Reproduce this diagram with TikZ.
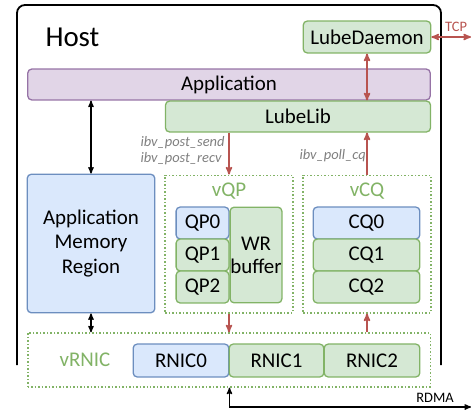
\documentclass[tikz,border=0pt]{standalone}
\usepackage{fontspec}
\setmainfont{Carlito}
\usetikzlibrary{arrows}
\definecolor{grnline}{HTML}{82B366}
\definecolor{grnfill}{HTML}{D5E8D4}
\definecolor{bluline}{HTML}{6C8EBF}
\definecolor{blufill}{HTML}{DAE8FC}
\definecolor{purline}{HTML}{9673A6}
\definecolor{purfill}{HTML}{E1D5E7}
\definecolor{redline}{HTML}{B85450}
\definecolor{txtgray}{HTML}{7F7F7F}
\begin{document}
\begin{tikzpicture}[x=1bp,y=-1bp,>=stealth',
    box/.style={draw,rounded corners=4bp,line width=1.3bp,inner sep=0pt,
      font=\fontsize{21}{24}\selectfont,align=center},
    grnbox/.style={box,draw=grnline,fill=grnfill},
    blubox/.style={box,draw=bluline,fill=blufill},
    dotbox/.style={draw=grnline,dotted,line width=1.5bp,inner sep=0pt},
    redarr/.style={draw=redline,line width=1.6bp},
    blkarr/.style={draw=black,line width=1.3bp},
    small/.style={font=\fontsize{14.5}{16}\selectfont}]
      \useasboundingbox (0,0) rectangle (471,413);
      \draw[line width=1.8bp,rounded corners=8bp] (17,365)--(17,5)--(441,5)--(441,365);
      \node [anchor=base west,font=\fontsize{29}{32}\selectfont] (host) at (42,46) {Host};
      \node [grnbox,minimum width=128,minimum height=32] (daemon) at (367,37) {LubeDaemon};
      \node [box,draw=purline,fill=purfill,minimum width=404,minimum height=31] (app) at (229,84.5) {Application};
      \node [grnbox,minimum width=266,minimum height=31] (lib) at (298,116.5) {LubeLib};
      \node [blubox,minimum width=128,minimum height=139,font=\fontsize{21}{24.5}\selectfont] (mem) at (91,243.5) {Application\\Memory\\Region};
      \node [dotbox,minimum width=128,minimum height=138] (vqp) at (229,244) {};
      \node [text=grnline,font=\fontsize{21}{24}\selectfont] (vqplbl) at (229,191) {vQP};
      \node [blubox,minimum width=53,minimum height=32] (qp0) at (202.5,223) {QP0};
      \node [grnbox,minimum width=53,minimum height=32] (qp1) at (202.5,255) {QP1};
      \node [grnbox,minimum width=53,minimum height=32] (qp2) at (202.5,287) {QP2};
      \node [grnbox,minimum width=52,minimum height=96,font=\fontsize{21}{23}\selectfont] (wr) at (256,255) {WR\\buffer};
      \node [dotbox,minimum width=128,minimum height=138] (vcq) at (367,244) {};
      \node [text=grnline,font=\fontsize{21}{24}\selectfont] (vcqlbl) at (367,191) {vCQ};
      \node [blubox,minimum width=107,minimum height=32] (cq0) at (366.5,223) {CQ0};
      \node [grnbox,minimum width=107,minimum height=32] (cq1) at (366.5,255) {CQ1};
      \node [grnbox,minimum width=107,minimum height=32] (cq2) at (366.5,287) {CQ2};
      \node [dotbox,fill=white,minimum width=404,minimum height=54] (vrnic) at (229,360) {};
      \node [text=grnline,font=\fontsize{21}{24}\selectfont] (vrniclbl) at (85,360) {vRNIC};
      \node [blubox,minimum width=96,minimum height=33] (rnic0) at (181,360.5) {RNIC0};
      \node [grnbox,minimum width=95,minimum height=33] (rnic1) at (276.5,360.5) {RNIC1};
      \node [grnbox,minimum width=96,minimum height=33] (rnic2) at (372,360.5) {RNIC2};
      \node [text=txtgray,anchor=west,align=left,font=\fontsize{14.5}{16}\selectfont\itshape] (post) at (137,151) {ibv\_post\_send\\ibv\_post\_recv};
      \node [text=txtgray,anchor=west,font=\fontsize{14.5}{16}\selectfont\itshape] (poll) at (296,156) {ibv\_poll\_cq};
      \node [small,text=redline] (tcp) at (456,27) {TCP};
      \node [small] (rdma) at (435,398) {RDMA};
      \coordinate (tcpend) at (471,37);
      \coordinate (rdmaend) at (471,407);
      \draw[redarr,<->] (daemon.south) -- (daemon.south |- lib.north);
      \draw[redarr,<->] (daemon.east) -- (tcpend);
      \draw[redarr,->] (vqp.north |- lib.south) -- (vqp.north);
      \draw[redarr,->] (vcq.north) -- (vcq.north |- lib.south);
      \draw[redarr,->] (vqp.south) -- (vqp.south |- vrnic.north);
      \draw[redarr,->] (vcq.south |- vrnic.north) -- (vcq.south);
      \draw[blkarr,<->] (mem.north |- app.south) -- (mem.north);
      \draw[blkarr,<->] (mem.south) -- (mem.south |- vrnic.north);
      \draw[blkarr,<->] (vrnic.south -| rnic0.east) |- (rdmaend);
    \end{tikzpicture}
\end{document}
